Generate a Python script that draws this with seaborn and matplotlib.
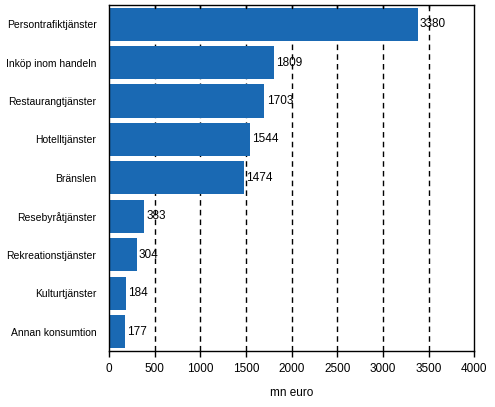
import matplotlib
matplotlib.use("Agg")
import matplotlib.pyplot as plt
import seaborn as sns
import pandas as pd

categories = ["Persontrafiktjänster", "Inköp inom handeln", "Restaurangtjänster",
              "Hotelltjänster", "Bränslen", "Resebyråtjänster", "Rekreationstjänster",
              "Kulturtjänster", "Annan konsumtion"]
values = [3380, 1809, 1703, 1544, 1474, 383, 304, 184, 177]
xticks = [0, 500, 1000, 1500, 2000, 2500, 3000, 3500, 4000]
xlabel = "mn euro"

sns.set_theme(style="white")
plt.rcParams['font.family'] = ['Liberation Sans', 'DejaVu Sans']
plt.rcParams['text.color'] = 'black'
plt.rcParams['xtick.color'] = 'black'
plt.rcParams['ytick.color'] = 'black'
plt.rcParams['axes.labelcolor'] = 'black'

df = pd.DataFrame({"cat": categories, "val": values})

fig = plt.figure(figsize=(4.95, 4.07), dpi=100)
ax = fig.add_axes([0.220, 0.1376, 0.738, 0.8504])
sns.barplot(data=df, x="val", y="cat", color="#1a69b3", saturation=1,
            width=0.86, ax=ax, orient="h", linewidth=0, edgecolor="none")

ax.set_xlim(0, 4000)
ax.set_ylim(len(categories) - 0.5, -0.5)
ax.set_xticks(xticks)
ax.set_xticklabels([str(t) for t in xticks], fontsize=8.5)
ax.set_xlabel(xlabel, fontsize=8.5, labelpad=8)
ax.set_ylabel("")
ax.tick_params(axis="y", length=0, labelsize=7.5, pad=9)
ax.tick_params(axis="x", direction="out", length=4, width=1, color="black",
               bottom=True, top=False, pad=5)
for t in xticks[1:-1]:
    ax.axvline(t, color="black", linestyle=(0, (4, 3)), linewidth=1, zorder=0.5)
for s in ax.spines.values():
    s.set_visible(True)
    s.set_color("black")
    s.set_linewidth(1)
for t in xticks[1:-1]:
    ax.plot([t, t], [-0.5, -0.42], color="black", linewidth=1, zorder=3)

for i, v in enumerate(values):
    ax.text(v + 25, i, str(v), va="center", ha="left", fontsize=8.5, zorder=4)

fig.savefig("out.png", dpi=100)
